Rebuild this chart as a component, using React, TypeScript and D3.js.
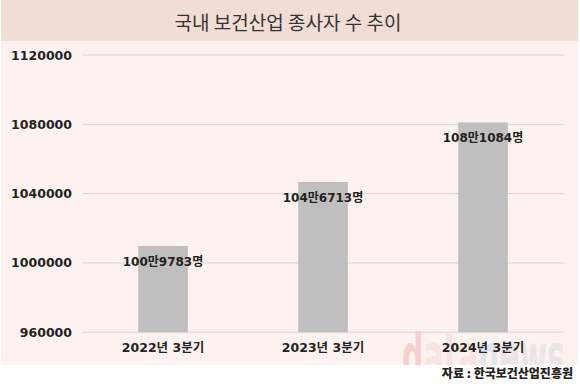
import React from "react";
import * as d3 from "d3";

const categories = ["2022년 3분기", "2023년 3분기", "2024년 3분기"];
const values = [1009783, 1046713, 1081084];
const valueLabels = ["100만9783명", "104만6713명", "108만1084명"];
const yTicks = [960000, 1000000, 1040000, 1080000, 1120000];

const W = 580;
const H = 390;

export default function App() {
  const x = d3.scaleBand<string>().domain(categories).range([83, 563]).paddingInner(0.69).paddingOuter(0.345);
  const y = d3.scaleLinear().domain([960000, 1120000]).range([332.2, 55]);
  const font = "'DejaVu Sans', 'Noto Sans CJK KR', sans-serif";
  return (
    <svg width={W} height={H} style={{ position: "absolute", left: 0, top: 0, background: "#ffffff" }} fontFamily={font}>
      <defs>
        <clipPath id="plotClip">
          <rect x={1} y={41} width={577} height={324} />
        </clipPath>
      </defs>
      <rect x={0} y={0} width={W} height={H} fill="#ffffff" />
      <rect x={1} y={0} width={577} height={41} fill="#f2ddd6" />
      <rect x={1} y={41} width={577} height={324} fill="#fdf2ef" />
      <text x={288} y={21} textAnchor="middle" dominantBaseline="central" fontSize={19} fill="#333" fontFamily="'Noto Sans CJK KR', sans-serif">
        국내 보건산업 종사자 수 추이
      </text>
      <g clipPath="url(#plotClip)">
        <text x={402} y={378} fontSize={62} fontWeight="bold" fontFamily="'DejaVu Sans', sans-serif" textLength={163} lengthAdjust="spacingAndGlyphs" fill="#f4d0d0">
          d<tspan fill="#f9e4e2">ata</tspan><tspan fill="#dfe4ee">n</tspan><tspan fill="#ebe5e5">ews</tspan>
        </text>
      </g>
      {yTicks.map((t) => (
        <g key={t}>
          <line x1={83} x2={564} y1={y(t)} y2={y(t)} stroke="#d9d4d3" strokeWidth={1} />
          <text x={72} y={y(t)} textAnchor="end" dominantBaseline="central" fontSize={12.5} fontWeight="bold" fill="#222">
            {t}
          </text>
        </g>
      ))}
      {categories.map((c, i) => {
        const bx = x(c)!;
        const cx = bx + x.bandwidth() / 2;
        return (
          <g key={c}>
            <rect x={bx} y={y(values[i])} width={x.bandwidth()} height={y(960000) - y(values[i])} fill="#bfbfbf" />
            <text x={cx} y={y(values[i]) + 16} textAnchor="middle" dominantBaseline="central" fontSize={12} fontWeight="bold" fill="#222">
              {valueLabels[i]}
            </text>
            <text x={cx} y={347} textAnchor="middle" dominantBaseline="central" fontSize={12.5} fontWeight="bold" fill="#222">
              {c}
            </text>
          </g>
        );
      })}
      <text x={573} y={372} textAnchor="end" dominantBaseline="central" fontSize={12} fontWeight={900} fill="#222" fontFamily="'Noto Sans CJK KR', sans-serif">
        자료 : 한국보건산업진흥원
      </text>
    </svg>
  );
}
